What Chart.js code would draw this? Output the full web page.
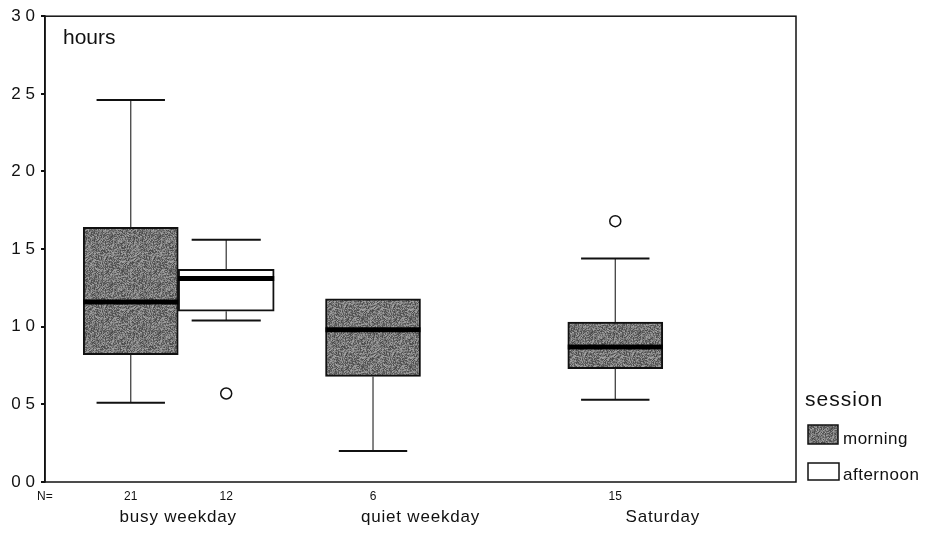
<!DOCTYPE html>
<html>
<head>
<meta charset="utf-8">
<title>hours by session</title>
<script src="https://cdn.jsdelivr.net/npm/chart.js@4.4.0/dist/chart.umd.min.js"></script>
<style>
  body { margin: 0; background: #fff; }
  #wrap { width: 929px; height: 534px; }
</style>
</head>
<body>
<div id="wrap"><canvas id="grafico" width="929" height="534"></canvas></div>
<script>
// day types and sessions
const groups = ['busy weekday', 'quiet weekday', 'Saturday'];
const sessions = ['morning', 'afternoon'];

// morning session box statistics (hours)
const morningLow = [0.51, 0.20, 0.53];
const morningQ1 = [0.82, 0.68, 0.73];
const morningMedian = [1.16, 0.98, 0.87];
const morningQ3 = [1.64, 1.18, 1.03];
const morningHigh = [2.46, 1.18, 1.44];
const morningOutliers = [[], [], [1.68]];
const morningN = [21, 6, 15];

// afternoon session (only recorded on busy weekdays)
const afternoonLow = [1.04, null, null];
const afternoonQ1 = [1.10, null, null];
const afternoonMedian = [1.31, null, null];
const afternoonQ3 = [1.37, null, null];
const afternoonHigh = [1.56, null, null];
const afternoonOutliers = [[0.57], [], []];
const afternoonN = [12, null, null];

const yTickValues = [0, 0.5, 1, 1.5, 2, 2.5, 3];
const yTickLabels = ['0 0', '0 5', '1 0', '1 5', '2 0', '2 5', '3 0'];

const stats = [
  { low: morningLow, q1: morningQ1, med: morningMedian, q3: morningQ3, high: morningHigh, out: morningOutliers, n: morningN },
  { low: afternoonLow, q1: afternoonQ1, med: afternoonMedian, q3: afternoonQ3, high: afternoonHigh, out: afternoonOutliers, n: afternoonN }
];

// box offsets inside a group, in x units
const shift = [-0.196, 0.198];
const FONT = '"Liberation Sans", Arial, Helvetica, sans-serif';

// grainy grey fill for the morning boxes
function grainPattern() {
  const c = document.createElement('canvas');
  c.width = 48; c.height = 48;
  const g = c.getContext('2d');
  const img = g.createImageData(48, 48);
  let h = 2463534242;
  for (let i = 0; i < 48 * 48; i++) {
    h ^= h << 13; h >>>= 0;
    h ^= h >>> 17;
    h ^= h << 5; h >>>= 0;
    const v = 70 + (h % 95);
    img.data[i * 4] = v; img.data[i * 4 + 1] = v; img.data[i * 4 + 2] = v; img.data[i * 4 + 3] = 255;
  }
  g.putImageData(img, 0, 0);
  return g.createPattern(c, 'repeat');
}
const grain = grainPattern();

function boxes(s) {
  const st = stats[s];
  return groups.map((g, i) => st.q1[i] == null ? null : { x: i + shift[s], y: [st.q1[i], st.q3[i]], g: i })
    .filter(Boolean);
}

function outliers() {
  const pts = [];
  stats.forEach((st, s) => st.out.forEach((list, i) => list.forEach(v => pts.push({ x: i + shift[s], y: v }))));
  return pts;
}

function text(ctx, str, x, y, size, align, spacing) {
  ctx.font = size + 'px ' + FONT;
  ctx.letterSpacing = (spacing || 0) + 'px';
  ctx.textAlign = align;
  ctx.textBaseline = 'alphabetic';
  ctx.fillStyle = '#111';
  ctx.fillText(str, x, y);
  ctx.letterSpacing = '0px';
}

const boxplotParts = {
  id: 'boxplotParts',
  afterDatasetsDraw(chart) {
    const ctx = chart.ctx;
    const y = chart.scales.y;
    ctx.save();
    [0, 1].forEach(s => {
      const st = stats[s];
      const meta = chart.getDatasetMeta(s);
      meta.data.forEach((bar, k) => {
        const i = chart.data.datasets[s].data[k].g;
        const { x, width } = bar.getProps(['x', 'width'], true);
        const cap = width * 0.36;
        // whiskers
        ctx.strokeStyle = '#333';
        ctx.lineWidth = 1.2;
        ctx.beginPath();
        if (st.high[i] > st.q3[i]) { ctx.moveTo(x, y.getPixelForValue(st.q3[i])); ctx.lineTo(x, y.getPixelForValue(st.high[i])); }
        if (st.low[i] < st.q1[i]) { ctx.moveTo(x, y.getPixelForValue(st.q1[i])); ctx.lineTo(x, y.getPixelForValue(st.low[i])); }
        ctx.stroke();
        ctx.strokeStyle = '#111';
        ctx.lineWidth = 2;
        ctx.beginPath();
        if (st.high[i] > st.q3[i]) { const p = y.getPixelForValue(st.high[i]); ctx.moveTo(x - cap, p); ctx.lineTo(x + cap, p); }
        if (st.low[i] < st.q1[i]) { const p = y.getPixelForValue(st.low[i]); ctx.moveTo(x - cap, p); ctx.lineTo(x + cap, p); }
        ctx.stroke();
        // median
        ctx.strokeStyle = '#000';
        ctx.lineWidth = 5;
        ctx.beginPath();
        const m = y.getPixelForValue(st.med[i]);
        ctx.moveTo(x - width / 2, m); ctx.lineTo(x + width / 2, m);
        ctx.stroke();
        // case counts
        text(ctx, String(st.n[i]), x, 500, 12, 'center', 0);
      });
    });
    ctx.restore();
  },
  afterDraw(chart) {
    const ctx = chart.ctx;
    const a = chart.chartArea;
    const xs = chart.scales.x;
    ctx.save();
    ctx.strokeStyle = '#111';
    ctx.lineWidth = 1.5;
    ctx.strokeRect(a.left, a.top, a.right - a.left, a.bottom - a.top);

    text(ctx, 'hours', a.left + 18, 44, 21, 'left', 0);
    text(ctx, 'N=', 37, 500, 12, 'left', 0);
    groups.forEach((g, i) => text(ctx, g, xs.getPixelForValue(i), 522, 17, 'center', 0.8));

    // legend
    text(ctx, 'session', 805, 406, 21, 'left', 1);
    ctx.fillStyle = grain;
    ctx.fillRect(808, 425, 30, 19);
    ctx.lineWidth = 1.5;
    ctx.strokeRect(808, 425, 30, 19);
    ctx.fillStyle = '#fff';
    ctx.fillRect(808, 463, 31, 17);
    ctx.strokeRect(808, 463, 31, 17);
    text(ctx, sessions[0], 843, 444, 17, 'left', 0.5);
    text(ctx, sessions[1], 843, 480, 17, 'left', 0.5);
    ctx.restore();
  }
};

new Chart(document.getElementById('grafico'), {
  type: 'bar',
  data: {
    datasets: [
      {
        label: sessions[0],
        data: boxes(0),
        backgroundColor: grain,
        borderColor: '#111',
        borderWidth: 2,
        borderSkipped: false,
        barThickness: 95
      },
      {
        label: sessions[1],
        data: boxes(1),
        backgroundColor: '#fff',
        borderColor: '#111',
        borderWidth: 2,
        borderSkipped: false,
        barThickness: 96
      },
      {
        type: 'scatter',
        label: 'outliers',
        data: outliers(),
        pointRadius: 5.5,
        pointBackgroundColor: '#fff',
        pointBorderColor: '#111',
        pointBorderWidth: 1.5
      }
    ]
  },
  options: {
    responsive: false,
    animation: false,
    grouped: false,
    layout: { padding: { left: 0, top: 13, right: 133, bottom: 52 } },
    plugins: { legend: { display: false }, tooltip: { enabled: false } },
    scales: {
      x: { type: 'linear', min: -0.55, max: 2.55, display: false, offset: false },
      y: {
        min: 0,
        max: 3,
        afterFit(scale) { scale.width = 45; },
        afterBuildTicks(scale) { scale.ticks = yTickValues.map(v => ({ value: v })); },
        ticks: {
          padding: 6,
          color: '#111',
          font: { family: FONT, size: 17 },
          callback: (v) => yTickLabels[yTickValues.indexOf(v)]
        },
        grid: { drawOnChartArea: false, drawTicks: true, tickLength: 4, color: '#111', lineWidth: 2 },
        border: { display: true, color: '#111', width: 1.5 }
      }
    }
  },
  plugins: [boxplotParts]
});
</script>
</body>
</html>
